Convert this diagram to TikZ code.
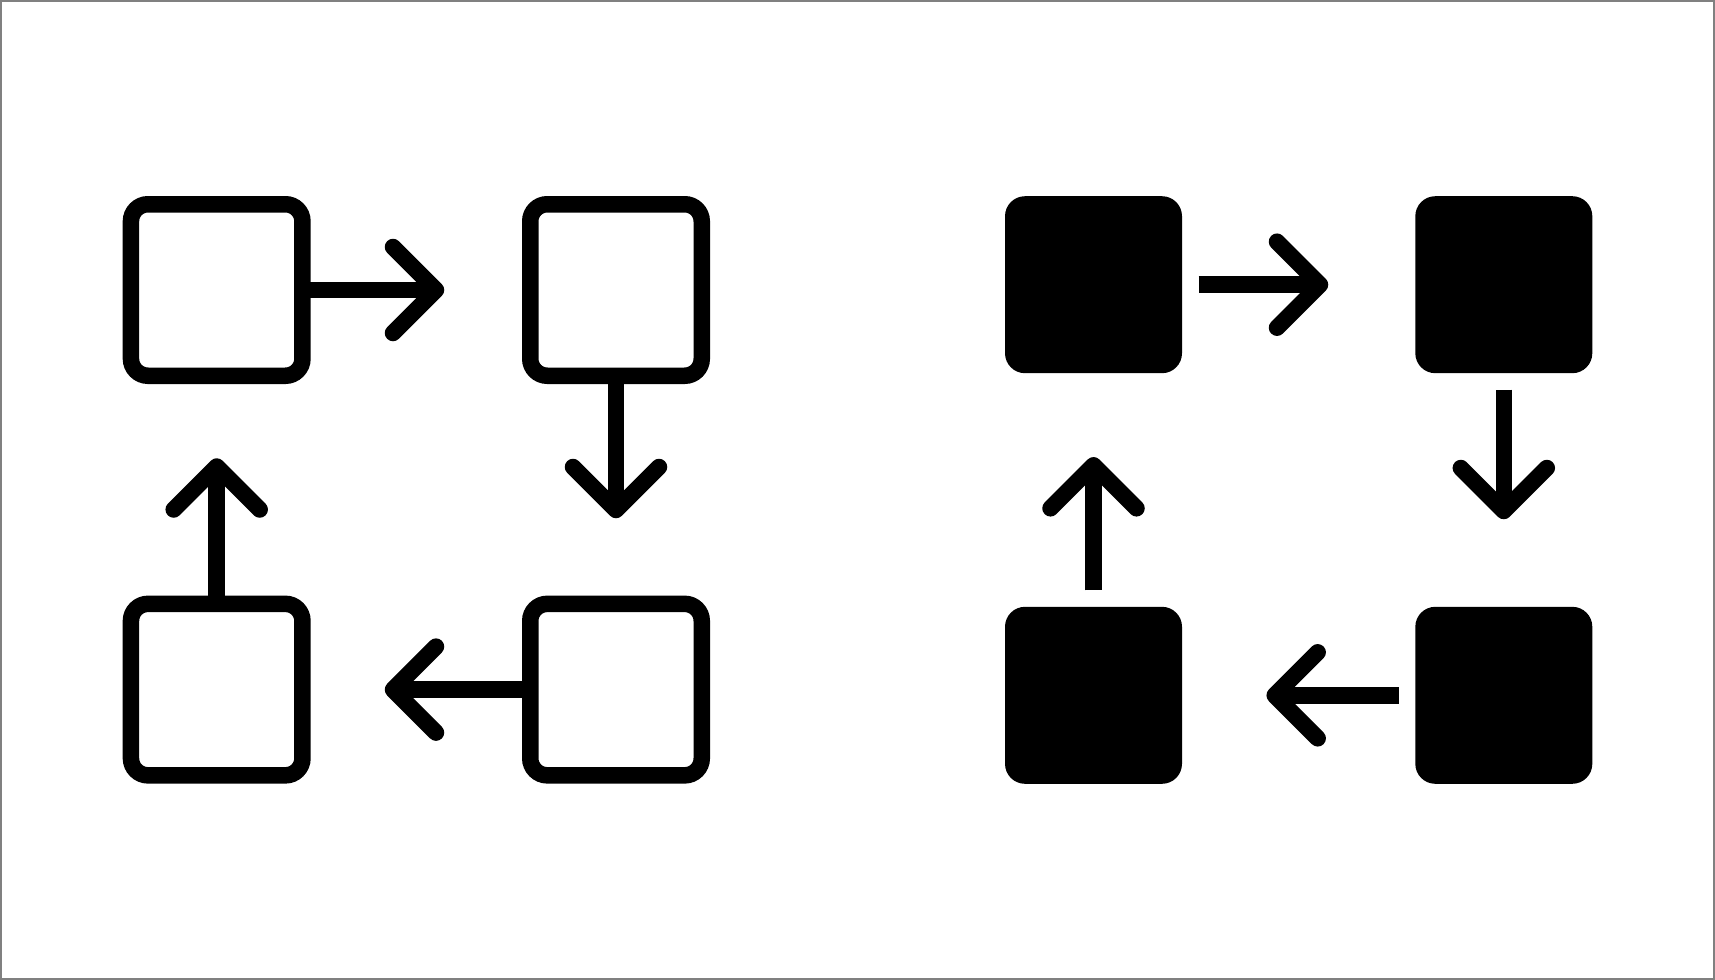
\documentclass[tikz,border=0pt]{standalone}
\begin{document}
\begin{tikzpicture}[x=4pt,y=-4pt,
  obox/.style={rectangle,minimum size=686pt,inner sep=0pt,outer sep=0pt},
  fbox/.style={rectangle,minimum size=708pt,inner sep=0pt,outer sep=0pt},
  oline/.style={draw=black,line width=66pt,rounded corners=68pt},
  fline/.style={fill=black,rounded corners=80pt},
  shaft/.style={line width=66pt,line cap=butt},
  head/.style={line width=66pt,line cap=round,line join=round}]
\useasboundingbox (0,0) rectangle (1715,980);
\draw[line width=8pt,draw=gray] (1,1) rectangle (1714,979);
% outlined boxes
\node[obox] (a1) at (216.7,290) {};
\node[obox] (a2) at (616,290) {};
\node[obox] (a3) at (616,689.6) {};
\node[obox] (a4) at (216.7,689.6) {};
\foreach \n in {a1,a2,a3,a4}
  \draw[oline] (\n.south west) rectangle (\n.north east);
\coordinate (ta1) at (436,290);
\coordinate (ta2) at (616,510);
\coordinate (ta3) at (393,689.6);
\coordinate (ta4) at (216.7,466.5);
\draw[shaft] (a1.east) -- (ta1);
\draw[head] (ta1) ++(-43,-43) -- (ta1) -- ++(-43,43);
\draw[shaft] (a2.south) -- (ta2);
\draw[head] (ta2) ++(-43,-43) -- (ta2) -- ++(43,-43);
\draw[shaft] (a3.west) -- (ta3);
\draw[head] (ta3) ++(43,-43) -- (ta3) -- ++(43,43);
\draw[shaft] (a4.north) -- (ta4);
\draw[head] (ta4) ++(-43,43) -- (ta4) -- ++(43,43);
% filled boxes
\node[fbox] (b1) at (1093.5,284.7) {};
\node[fbox] (b2) at (1503.8,284.7) {};
\node[fbox] (b3) at (1503.8,695.3) {};
\node[fbox] (b4) at (1093.5,695.3) {};
\foreach \n in {b1,b2,b3,b4}
  \fill[fline] (\n.south west) rectangle (\n.north east);
\coordinate (tb1) at (1320,284.7);
\coordinate (tb2) at (1503.8,511);
\coordinate (tb3) at (1274.7,695.3);
\coordinate (tb4) at (1093.5,465.3);
\draw[shaft,shorten <=66pt] (b1.east) -- (tb1);
\draw[head] (tb1) ++(-43,-43) -- (tb1) -- ++(-43,43);
\draw[shaft,shorten <=66pt] (b2.south) -- (tb2);
\draw[head] (tb2) ++(-43,-43) -- (tb2) -- ++(43,-43);
\draw[shaft,shorten <=66pt] (b3.west) -- (tb3);
\draw[head] (tb3) ++(43,-43) -- (tb3) -- ++(43,43);
\draw[shaft,shorten <=66pt] (b4.north) -- (tb4);
\draw[head] (tb4) ++(-43,43) -- (tb4) -- ++(43,43);
\end{tikzpicture}
\end{document}
